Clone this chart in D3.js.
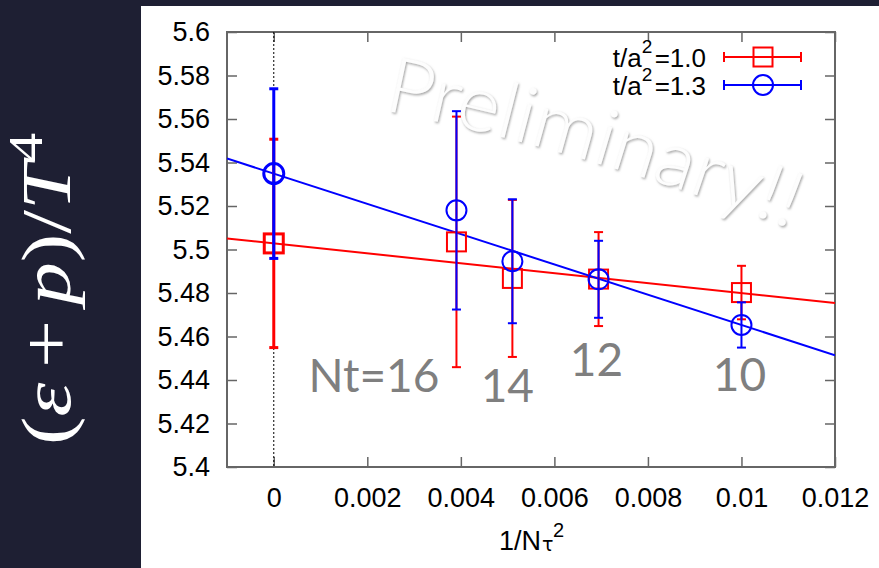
<!DOCTYPE html>
<html>
<head>
<meta charset="utf-8">
<script src="https://cdn.jsdelivr.net/npm/d3@7"></script>
<style>
    body { margin: 0; background: #1e1f33; }
    svg { display: block; }
</style>
</head>
<body>
<div id="container"></div>
<script>
// data
var invNt2 = [0, 1 / 256, 1 / 196, 1 / 144, 1 / 100] // 1/Nt^2, first one is the continuum limit
var ntLabels = ['', 'Nt=16', '14', '12', '10']
var seriesNames = ['1.0', '1.3'] // t/a^2
var red = [5.5028, 5.5035, 5.4867, 5.4864, 5.4802]
var redErr = [0.0479, 0.0576, 0.0361, 0.0216, 0.0123]
var blue = [5.5349, 5.518, 5.4946, 5.4863, 5.4653]
var blueErr = [0.039, 0.0456, 0.0285, 0.0177, 0.0104]
var fitRed = [5.5028, -2.28] // intercept, slope
var fitBlue = [5.5349, -6.96]
var xTicks = [0, 0.002, 0.004, 0.006, 0.008, 0.01, 0.012]
var xTickLabels = ['0', '0.002', '0.004', '0.006', '0.008', '0.01', '0.012']
var yTicks = [5.4, 5.42, 5.44, 5.46, 5.48, 5.5, 5.52, 5.54, 5.56, 5.58, 5.6]
var yTickLabels = ['5.4', '5.42', '5.44', '5.46', '5.48', '5.5', '5.52', '5.54', '5.56', '5.58', '5.6']

var W = 879, H = 568
var plot = { left: 227, top: 32, right: 835, bottom: 467 }
var colors = ['#ff0000', '#0000ff']
var axisGrey = '#666'

var svg = d3.select('#container').append('svg')
    .attr('width', W)
    .attr('height', H)

svg.append('rect').attr('width', W).attr('height', H).attr('fill', '#1e1f33')
svg.append('rect')
    .attr('x', 141).attr('y', 6)
    .attr('width', W - 141).attr('height', H - 6)
    .attr('fill', '#fff')

var defs = svg.append('defs')
var shadow = defs.append('filter').attr('id', 'wm').attr('x', '-10%').attr('y', '-10%').attr('width', '120%').attr('height', '130%')
shadow.append('feDropShadow')
    .attr('dx', 1).attr('dy', 1.5)
    .attr('stdDeviation', 1.2)
    .attr('flood-color', '#888')
    .attr('flood-opacity', 0.75)

var x = d3.scaleLinear().domain([-0.001, 0.012]).range([plot.left, plot.right])
var y = d3.scaleLinear().domain([5.4, 5.6]).range([plot.bottom, plot.top])

// y axis title (latex style)
var ylab = svg.append('text')
    .attr('transform', 'translate(70,289) rotate(-90)')
    .attr('text-anchor', 'middle')
    .attr('fill', '#fff')
    .attr('textLength', 312)
    .attr('lengthAdjust', 'spacingAndGlyphs')
    .style('font-family', '"Liberation Serif", "DejaVu Serif", serif')
    .style('font-size', '70px')
ylab.append('tspan').text('(')
ylab.append('tspan').style('font-style', 'italic').text('ε')
ylab.append('tspan').attr('dx', 12).text('+')
ylab.append('tspan').attr('dx', 12).style('font-style', 'italic').text('p')
ylab.append('tspan').text(')/')
ylab.append('tspan').style('font-style', 'italic').text('T')
ylab.append('tspan').attr('dy', -28).style('font-size', '48px').text('4')

// axes, ticks point inwards on all four sides
var fontAxis = '"Liberation Sans", Arial, sans-serif'

var gx = svg.append('g')
    .attr('transform', 'translate(0,' + plot.bottom + ')')
    .call(d3.axisBottom(x).tickValues(xTicks).tickSize(-10).tickSizeOuter(0).tickPadding(21)
        .tickFormat(function(d, i) { return xTickLabels[i] }))
var gxTop = svg.append('g')
    .attr('transform', 'translate(0,' + plot.top + ')')
    .call(d3.axisTop(x).tickValues(xTicks).tickSize(-10).tickSizeOuter(0).tickFormat(''))
var gy = svg.append('g')
    .attr('transform', 'translate(' + plot.left + ',0)')
    .call(d3.axisLeft(y).tickValues(yTicks).tickSize(-10).tickSizeOuter(0).tickPadding(17)
        .tickFormat(function(d, i) { return yTickLabels[i] }))
var gyRight = svg.append('g')
    .attr('transform', 'translate(' + plot.right + ',0)')
    .call(d3.axisRight(y).tickValues(yTicks).tickSize(-10).tickSizeOuter(0).tickFormat(''))

;[gx, gxTop, gy, gyRight].forEach(function(g) {
    g.attr('color', axisGrey)
    g.selectAll('.tick line').attr('stroke-width', 1.5)
    g.select('.domain').remove()
    g.selectAll('text')
        .attr('fill', '#000')
        .style('font-family', fontAxis)
        .style('font-size', '27px')
})

svg.append('rect')
    .attr('x', plot.left).attr('y', plot.top)
    .attr('width', plot.right - plot.left)
    .attr('height', plot.bottom - plot.top)
    .attr('fill', 'none')
    .attr('stroke', axisGrey)
    .attr('stroke-width', 2)

// zero line
svg.append('line')
    .attr('x1', x(0)).attr('x2', x(0))
    .attr('y1', plot.top).attr('y2', plot.bottom)
    .attr('stroke', '#000')
    .attr('stroke-width', 1)
    .attr('stroke-dasharray', '2,2')

// x axis title 1/N_tau^2
var xt = svg.append('text')
    .attr('x', 499).attr('y', 550)
    .style('font-family', fontAxis)
    .style('font-size', '27px')
    .text('1/N')
var xtEnd = 499 + xt.node().getComputedTextLength()
svg.append('text')
    .attr('x', xtEnd + 1).attr('y', 551)
    .style('font-family', '"DejaVu Sans", sans-serif')
    .style('font-size', '19px')
    .text('τ')
svg.append('text')
    .attr('x', xtEnd + 12).attr('y', 537)
    .style('font-family', fontAxis)
    .style('font-size', '20px')
    .text('2')

// fit lines, clipped to the frame
defs.append('clipPath').attr('id', 'frame')
    .append('rect')
    .attr('x', plot.left).attr('y', plot.top)
    .attr('width', plot.right - plot.left)
    .attr('height', plot.bottom - plot.top)

var dom = x.domain()
;[fitRed, fitBlue].forEach(function(f, k) {
    svg.append('line')
        .attr('clip-path', 'url(#frame)')
        .attr('x1', x(dom[0])).attr('y1', y(f[0] + f[1] * dom[0]))
        .attr('x2', x(dom[1])).attr('y2', y(f[0] + f[1] * dom[1]))
        .attr('stroke', colors[k])
        .attr('stroke-width', 2)
})

// points with error bars
function drawSeries(vals, errs, k) {
    var data = vals.map(function(v, i) {
        return { x: invNt2[i], v: v, e: errs[i] }
    })
    var g = svg.append('g')
        .attr('stroke', colors[k])
        .attr('fill', 'none')
    var pt = g.selectAll('.pt')
        .data(data)
        .enter()
        .append('g')
        .attr('class', 'pt')
        .attr('stroke-width', function(d) { return d.x === 0 ? 3 : 2 })
    pt.append('line')
        .attr('x1', function(d) { return x(d.x) })
        .attr('x2', function(d) { return x(d.x) })
        .attr('y1', function(d) { return y(d.v - d.e) })
        .attr('y2', function(d) { return y(d.v + d.e) })
    pt.each(function(d) {
        var s = d3.select(this)
        ;[d.v - d.e, d.v + d.e].forEach(function(c) {
            s.append('line')
                .attr('x1', x(d.x) - 4.5).attr('x2', x(d.x) + 4.5)
                .attr('y1', y(c)).attr('y2', y(c))
        })
        if (k === 0) {
            s.append('rect')
                .attr('x', x(d.x) - 9.5).attr('y', y(d.v) - 9.5)
                .attr('width', 19).attr('height', 19)
        } else {
            s.append('circle')
                .attr('cx', x(d.x)).attr('cy', y(d.v))
                .attr('r', 10)
        }
    })
}
drawSeries(red, redErr, 0)
drawSeries(blue, blueErr, 1)

// legend, the superscript 2 as its own text so it sits above t/a and =
seriesNames.forEach(function(name, k) {
    var base = 67 + k * 28
    var rest = svg.append('text')
        .attr('x', 706).attr('y', base)
        .attr('text-anchor', 'end')
        .style('font-family', fontAxis)
        .style('font-size', '26px')
        .text('=' + name)
    var restStart = 706 - rest.node().getComputedTextLength()
    svg.append('text')
        .attr('x', restStart - 13).attr('y', base - 14)
        .style('font-family', fontAxis)
        .style('font-size', '19px')
        .text('2')
    svg.append('text')
        .attr('x', restStart - 13).attr('y', base)
        .attr('text-anchor', 'end')
        .style('font-family', fontAxis)
        .style('font-size', '26px')
        .text('t/a')

    var ly = base - 10
    var lg = svg.append('g').attr('stroke', colors[k]).attr('fill', 'none').attr('stroke-width', 2)
    lg.append('line').attr('x1', 724).attr('x2', 801).attr('y1', ly).attr('y2', ly)
    lg.append('line').attr('x1', 724).attr('x2', 724).attr('y1', ly - 5).attr('y2', ly + 5)
    lg.append('line').attr('x1', 801).attr('x2', 801).attr('y1', ly - 5).attr('y2', ly + 5)
    if (k === 0) {
        lg.append('rect').attr('x', 763 - 9.5).attr('y', ly - 9.5).attr('width', 19).attr('height', 19)
    } else {
        lg.append('circle').attr('cx', 763).attr('cy', ly).attr('r', 10)
    }
})

// Nt annotations
var annot = [null, [-17, 392, 'end'], [-5, 402, 'middle'], [-2, 376, 'middle'], [-2, 391, 'middle']]
ntLabels.forEach(function(lab, i) {
    if (!lab) return
    svg.append('text')
        .attr('x', x(invNt2[i]) + annot[i][0])
        .attr('y', annot[i][1])
        .attr('text-anchor', annot[i][2])
        .attr('fill', '#7f7f7f')
        .style('font-family', 'Lato, "Open Sans", sans-serif')
        .style('font-size', '46px')
        .text(lab)
})

// watermark on top, bent slightly like word art
defs.append('path')
    .attr('id', 'wmPath')
    .attr('d', 'M383,110 Q590,152 794,230')
svg.append('text')
    .attr('fill', '#fdfdfd')
    .attr('filter', 'url(#wm)')
    .style('font-family', 'Lato, "Open Sans", sans-serif')
    .style('font-weight', 300)
    .style('font-size', '78px')
    .append('textPath')
    .attr('href', '#wmPath')
    .attr('textLength', 425)
    .attr('lengthAdjust', 'spacingAndGlyphs')
    .text('Preliminary!!')
</script>
</body>
</html>
